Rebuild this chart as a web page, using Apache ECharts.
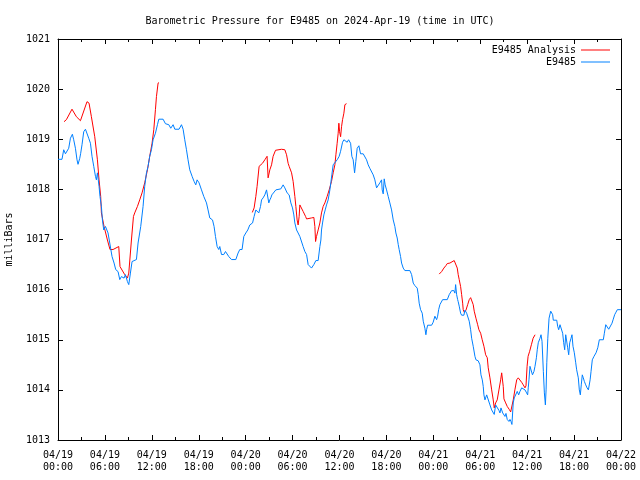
<!DOCTYPE html>
<html><head><meta charset="utf-8">
<script src="https://cdn.jsdelivr.net/npm/echarts@6/dist/echarts.min.js"></script>
<style>html,body{margin:0;padding:0;background:#fff}#c{width:640px;height:480px}</style>
</head><body><div id="c"></div>
<script>
const chartTitle = 'Barometric Pressure for E9485 on 2024-Apr-19 (time in UTC)';
const yAxisName = 'milliBars';
const analysisName = 'E9485 Analysis';
const stationName = 'E9485';
// x in hours since 2024-04-19 00:00 UTC
const xTickLabels = ['04/19\n00:00','04/19\n06:00','04/19\n12:00','04/19\n18:00','04/20\n00:00','04/20\n06:00','04/20\n12:00','04/20\n18:00','04/21\n00:00','04/21\n06:00','04/21\n12:00','04/21\n18:00','04/22\n00:00'];

const stationData = [[0,1018.60],[0.51,1018.60],[0.73,1018.79],[0.95,1018.71],[1.15,1018.71],[1.37,1018.82],[1.59,1019.02],[1.84,1019.10],[2.01,1018.99],[2.23,1018.82],[2.43,1018.59],[2.56,1018.50],[2.78,1018.62],[2.90,1018.72],[3.07,1018.89],[3.29,1019.15],[3.51,1019.20],[3.71,1019.17],[3.93,1019.02],[4.15,1018.92],[4.35,1018.66],[4.57,1018.46],[4.79,1018.26],[4.91,1018.19],[5.04,1018.33],[5.25,1018.06],[5.37,1017.86],[5.55,1017.66],[5.68,1017.39],[5.85,1017.19],[6.07,1017.26],[6.27,1017.29],[6.40,1017.13],[6.62,1016.93],[6.91,1016.66],[7.17,1016.53],[7.38,1016.40],[7.68,1016.36],[7.90,1016.20],[8.11,1016.26],[8.45,1016.23],[8.62,1016.30],[8.88,1016.16],[9.05,1016.10],[9.26,1016.33],[9.47,1016.56],[10.03,1016.60],[10.24,1016.93],[10.58,1017.26],[10.88,1017.66],[11.09,1018.06],[11.31,1018.33],[11.52,1018.46],[11.73,1018.66],[11.95,1018.79],[12.16,1018.99],[12.46,1019.12],[12.72,1019.29],[12.89,1019.40],[13.44,1019.40],[13.74,1019.31],[14.17,1019.29],[14.42,1019.22],[14.72,1019.29],[14.94,1019.20],[15.48,1019.20],[15.79,1019.29],[16.00,1019.20],[16.21,1018.99],[16.43,1018.79],[16.63,1018.59],[16.85,1018.39],[17.15,1018.26],[17.40,1018.16],[17.62,1018.09],[17.79,1018.19],[18.04,1018.13],[18.35,1017.99],[18.64,1017.86],[18.99,1017.73],[19.19,1017.59],[19.41,1017.43],[19.76,1017.39],[19.96,1017.26],[20.14,1017.06],[20.35,1016.86],[20.56,1016.80],[20.69,1016.86],[20.91,1016.70],[21.20,1016.70],[21.42,1016.76],[21.63,1016.73],[21.84,1016.66],[22.19,1016.60],[22.74,1016.60],[23.03,1016.73],[23.25,1016.80],[23.54,1016.80],[23.76,1017.06],[24.02,1017.13],[24.27,1017.19],[24.53,1017.29],[24.88,1017.33],[25.08,1017.46],[25.30,1017.59],[25.46,1017.59],[25.68,1017.53],[25.90,1017.66],[26.03,1017.79],[26.23,1017.83],[26.45,1017.89],[26.67,1017.99],[26.79,1018.01],[26.96,1017.73],[27.09,1017.79],[27.22,1017.83],[27.35,1017.89],[27.60,1017.91],[27.86,1017.99],[28.50,1018.01],[28.79,1018.09],[29.01,1018.03],[29.30,1017.93],[29.56,1017.89],[29.78,1017.73],[29.99,1017.63],[30.16,1017.49],[30.29,1017.33],[30.51,1017.19],[30.71,1017.13],[30.93,1017.06],[31.15,1017.03],[31.35,1016.86],[31.57,1016.76],[31.79,1016.70],[31.99,1016.50],[32.21,1016.48],[32.42,1016.43],[32.55,1016.40],[32.72,1016.50],[32.98,1016.58],[33.27,1016.58],[33.49,1016.86],[33.62,1016.99],[33.70,1017.19],[33.83,1017.33],[34.00,1017.49],[34.17,1017.59],[34.34,1017.69],[34.55,1017.79],[34.77,1017.99],[34.89,1018.13],[35.02,1018.29],[35.19,1018.49],[35.41,1018.52],[35.70,1018.59],[35.96,1018.66],[36.14,1018.76],[36.39,1018.94],[36.56,1018.99],[36.81,1019.00],[36.98,1018.94],[37.16,1018.99],[37.42,1018.92],[37.58,1018.66],[37.75,1018.59],[37.93,1018.33],[38.09,1018.56],[38.26,1018.82],[38.48,1018.87],[38.69,1018.71],[39.03,1018.71],[39.28,1018.70],[39.46,1018.59],[39.67,1018.49],[39.88,1018.42],[40.10,1018.39],[40.31,1018.29],[40.52,1018.19],[40.74,1018.03],[40.95,1018.06],[41.16,1018.13],[41.38,1018.19],[41.46,1017.99],[41.59,1017.91],[41.72,1018.21],[41.84,1018.09],[42.02,1017.99],[42.23,1017.86],[42.44,1017.73],[42.66,1017.59],[42.87,1017.39],[43.08,1017.26],[43.21,1017.13],[43.38,1017.03],[43.51,1016.90],[43.63,1016.80],[43.81,1016.66],[43.94,1016.53],[44.15,1016.43],[44.36,1016.38],[45.00,1016.38],[45.22,1016.30],[45.43,1016.13],[45.64,1016.08],[45.94,1016.03],[46.07,1015.90],[46.19,1015.73],[46.37,1015.60],[46.58,1015.53],[46.71,1015.37],[46.92,1015.23],[47.05,1015.10],[47.14,1015.20],[47.27,1015.29],[47.78,1015.29],[47.98,1015.35],[48.20,1015.47],[48.42,1015.40],[48.55,1015.47],[48.68,1015.60],[48.84,1015.70],[49.19,1015.80],[49.78,1015.80],[50.03,1015.90],[50.34,1015.98],[50.63,1015.98],[50.76,1015.93],[50.85,1016.10],[50.98,1015.90],[51.11,1015.80],[51.18,1015.76],[51.31,1015.67],[51.49,1015.53],[51.62,1015.49],[51.91,1015.49],[52.04,1015.59],[52.26,1015.53],[52.46,1015.50],[52.59,1015.37],[52.77,1015.20],[52.90,1015.03],[53.10,1014.87],[53.32,1014.67],[53.45,1014.60],[53.74,1014.58],[53.96,1014.50],[54.09,1014.30],[54.26,1014.20],[54.38,1014.07],[54.47,1013.90],[54.60,1013.80],[54.82,1013.90],[55.02,1013.87],[55.24,1013.70],[55.46,1013.60],[55.66,1013.59],[55.79,1013.51],[55.97,1013.70],[56.17,1013.67],[56.39,1013.59],[56.52,1013.54],[56.65,1013.64],[56.87,1013.54],[57.03,1013.57],[57.16,1013.47],[57.29,1013.53],[57.45,1013.41],[57.67,1013.37],[57.80,1013.41],[57.93,1013.37],[58.05,1013.31],[58.22,1013.74],[58.35,1013.84],[58.53,1013.87],[58.73,1013.97],[58.91,1013.90],[59.08,1013.97],[59.30,1014.04],[59.50,1014.07],[59.72,1014.00],[59.93,1013.94],[60.06,1013.90],[60.14,1014.04],[60.23,1014.20],[60.36,1014.47],[60.58,1014.47],[60.68,1014.30],[60.87,1014.37],[61.00,1014.47],[61.18,1014.64],[61.29,1014.80],[61.42,1014.94],[61.64,1015.03],[61.77,1015.10],[61.90,1014.97],[62.07,1014.37],[62.20,1013.94],[62.33,1013.70],[62.42,1014.00],[62.51,1014.54],[62.64,1015.03],[62.80,1015.43],[63.01,1015.57],[63.14,1015.60],[63.26,1015.50],[63.34,1015.39],[63.56,1015.40],[63.78,1015.39],[63.90,1015.27],[64.03,1015.20],[64.20,1015.30],[64.41,1015.30],[64.54,1015.13],[64.67,1014.94],[64.80,1014.80],[64.93,1015.10],[65.05,1015.07],[65.18,1014.84],[65.31,1014.70],[65.44,1014.94],[65.61,1015.03],[65.73,1015.10],[65.86,1014.87],[66.03,1014.74],[66.21,1014.54],[66.33,1014.40],[66.54,1014.24],[66.67,1014.00],[66.80,1013.90],[66.92,1014.10],[67.05,1014.30],[67.18,1014.24],[67.31,1014.17],[67.49,1014.10],[67.66,1014.04],[67.83,1014.00],[68.05,1014.20],[68.17,1014.37],[68.33,1014.60],[68.55,1014.67],[68.81,1014.74],[69.03,1014.84],[69.23,1015.00],[69.74,1015.00],[69.87,1015.13],[70.05,1015.30],[70.30,1015.30],[70.43,1015.21],[70.68,1015.21],[70.85,1015.33],[71.01,1015.41],[71.19,1015.50],[71.36,1015.55],[71.53,1015.60],[71.75,1015.60],[72,1015.60]];

const analysisDay1 = [[0.77,1019.35],[1.07,1019.39],[1.79,1019.60],[2.35,1019.45],[2.87,1019.37],[3.71,1019.75],[3.97,1019.72],[4.27,1019.45],[4.70,1019.05],[5.04,1018.59],[5.25,1018.19],[5.46,1017.86],[5.55,1017.53],[5.89,1017.26],[6.32,1016.99],[6.65,1016.80],[7.04,1016.80],[7.77,1016.86],[7.93,1016.46],[8.53,1016.30],[8.88,1016.23],[9.05,1016.33],[9.39,1016.99],[9.65,1017.46],[9.81,1017.53],[10.16,1017.66],[10.45,1017.79],[10.75,1017.93],[11.09,1018.13],[11.44,1018.39],[11.73,1018.66],[12.03,1018.92],[12.25,1019.19],[12.46,1019.59],[12.59,1019.85],[12.80,1020.12],[12.92,1020.13]];

const analysisDay2 = [[24.85,1017.54],[25.08,1017.63],[25.30,1017.86],[25.46,1018.06],[25.72,1018.46],[25.94,1018.49],[26.15,1018.52],[26.45,1018.59],[26.74,1018.66],[26.87,1018.23],[27.09,1018.39],[27.31,1018.49],[27.51,1018.66],[27.82,1018.78],[28.59,1018.80],[29.01,1018.79],[29.23,1018.69],[29.43,1018.52],[29.56,1018.46],[29.87,1018.33],[30.07,1018.16],[30.29,1017.86],[30.42,1017.66],[30.58,1017.39],[30.71,1017.29],[30.84,1017.46],[30.93,1017.69],[31.15,1017.66],[31.35,1017.56],[31.66,1017.46],[31.79,1017.41],[32.42,1017.43],[32.72,1017.44],[32.85,1017.26],[32.94,1016.96],[33.06,1017.06],[33.27,1017.19],[33.49,1017.33],[33.70,1017.53],[33.91,1017.66],[34.13,1017.73],[34.42,1017.86],[34.68,1017.99],[34.98,1018.16],[35.19,1018.33],[35.41,1018.49],[35.54,1018.69],[35.70,1018.92],[35.83,1019.12],[35.92,1019.32],[36.01,1019.15],[36.14,1019.05],[36.26,1019.25],[36.39,1019.39],[36.56,1019.52],[36.69,1019.69],[36.90,1019.71]];

const analysisDay3 = [[48.75,1016.31],[49.06,1016.36],[49.35,1016.43],[49.61,1016.48],[49.78,1016.52],[50.12,1016.53],[50.34,1016.55],[50.67,1016.58],[50.89,1016.56],[51.06,1016.43],[51.18,1016.30],[51.31,1016.20],[51.49,1016.06],[51.62,1015.90],[51.75,1015.73],[51.82,1015.60],[51.95,1015.55],[52.17,1015.59],[52.39,1015.70],[52.59,1015.80],[52.77,1015.84],[52.98,1015.81],[53.10,1015.70],[53.23,1015.57],[53.45,1015.43],[53.67,1015.30],[53.83,1015.20],[54.05,1015.13],[54.25,1015.00],[54.47,1014.87],[54.69,1014.70],[54.90,1014.64],[55.02,1014.44],[55.24,1014.24],[55.46,1014.00],[55.66,1013.80],[55.79,1013.64],[55.97,1013.74],[56.17,1013.80],[56.39,1014.00],[56.61,1014.20],[56.74,1014.34],[56.81,1014.35],[56.94,1014.07],[57.03,1013.82],[57.25,1013.74],[57.45,1013.67],[57.71,1013.61],[57.89,1013.56],[58.02,1013.57],[58.22,1013.80],[58.43,1014.00],[58.66,1014.20],[58.86,1014.24],[59.08,1014.22],[59.30,1014.15],[59.50,1014.10],[59.72,1014.04],[59.85,1014.08],[59.99,1014.47],[60.12,1014.67],[60.32,1014.77],[60.54,1014.90],[60.76,1015.03],[61.01,1015.10]];

const FONT = '"DejaVu Sans Mono", "Liberation Mono", monospace';
const RED = '#ff0000';
const BLUE = '#0080ff';
const black = {color:'#000', width:1};

function xAxisDef(pos, showLabels){
  return {
    type:'value', min:0, max:72, interval:6, position:pos,
    axisLine:{show:true, onZero:false, lineStyle:black},
    axisTick:{show:true, inside:true, length:5, lineStyle:black},
    minorTick:{show:true, splitNumber:2, length:3, lineStyle:black},
    splitLine:{show:false},
    axisLabel:{show:showLabels, formatter:(v)=>xTickLabels[Math.round(v/6)], fontFamily:FONT, fontSize:10, color:'#000', lineHeight:12, margin:9, hideOverlap:false}
  };
}
function yAxisDef(pos, showLabels){
  const a = {
    type:'value', min:1013, max:1021, interval:1, position:pos,
    axisLine:{show:true, onZero:false, lineStyle:black},
    axisTick:{show:true, inside:true, length:5, lineStyle:black},
    splitLine:{show:false},
    axisLabel:{show:showLabels, formatter:(v)=>String(v), fontFamily:FONT, fontSize:10, color:'#000', margin:8}
  };
  if (showLabels) {
    a.name = yAxisName; a.nameLocation = 'middle'; a.nameGap = 44; a.nameRotate = 90;
    a.nameTextStyle = {fontFamily:FONT, fontSize:10, color:'#000'};
  }
  return a;
}
function lineSeries(name, data, color){
  return {name, type:'line', data, xAxisIndex:0, yAxisIndex:0, showSymbol:false, symbol:'none',
    color, itemStyle:{color}, lineStyle:{color, width:1}, connectNulls:false, silent:true};
}

const chart = echarts.init(document.getElementById('c'), null, {renderer:'canvas'});
chart.setOption({
  animation:false,
  backgroundColor:'#fff',
  title:{text:chartTitle, left:'center', top:11, textStyle:{fontFamily:FONT, fontSize:10, fontWeight:'normal', color:'#000'}},
  legend:{orient:'vertical', right:25, top:40, align:'right', icon:'rect', itemWidth:29, itemHeight:1, itemGap:2,
    textStyle:{fontFamily:FONT, fontSize:10, color:'#000'},
    data:[{name:analysisName}, {name:stationName}]},
  grid:{left:58, right:19, top:39, bottom:40, containLabel:false, outerBoundsMode:'none'},
  xAxis:[xAxisDef('bottom', true), xAxisDef('top', false)],
  yAxis:[yAxisDef('left', true), yAxisDef('right', false)],
  series:[
    lineSeries(analysisName, analysisDay1, RED),
    lineSeries(analysisName, analysisDay2, RED),
    lineSeries(analysisName, analysisDay3, RED),
    lineSeries(stationName, stationData, BLUE)
  ]
});
</script></body></html>
